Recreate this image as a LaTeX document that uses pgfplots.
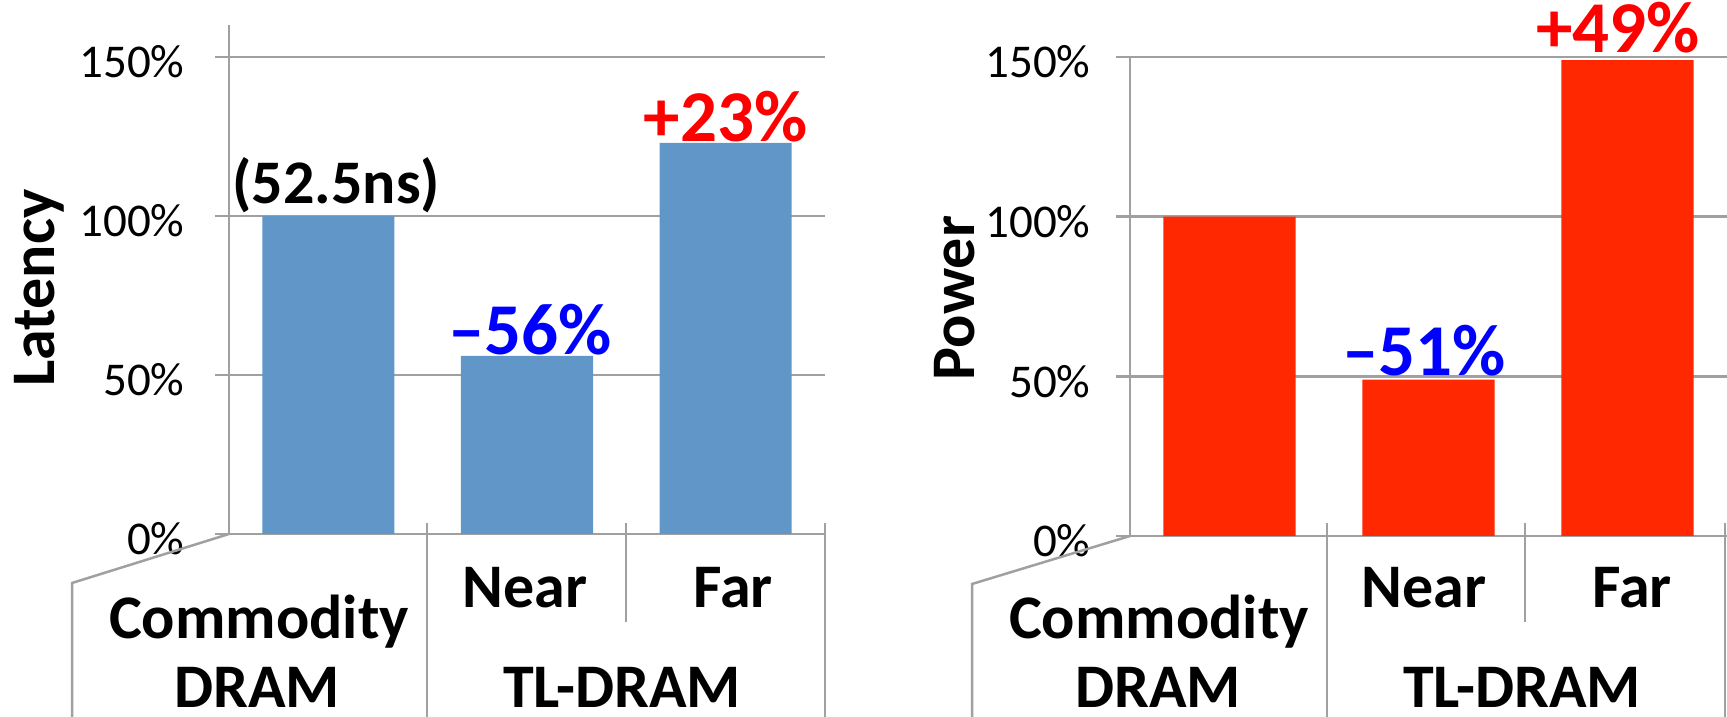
\documentclass[border=0pt]{standalone}
\usepackage{pgfplots}
\pgfplotsset{compat=1.18}
\usepackage{fontspec}
\setmainfont{Carlito}
\definecolor{barblue}{RGB}{97,150,200}
\definecolor{barred}{RGB}{255,40,0}
\definecolor{gridgray}{RGB}{160,160,160}
\definecolor{lblred}{RGB}{255,0,0}
\definecolor{lblblue}{RGB}{0,0,255}
\pgfplotsset{
  panel/.style={
    scale only axis,
    anchor=south west,
    xmin=-0.5, xmax=2.5,
    ymin=0,
    axis x line*=bottom,
    axis y line*=left,
    axis line style={gridgray, line width=2.5pt},
    xtick=\empty,
    ytick={0,50,100,150},
    yticklabels={0\%,50\%,100\%,150\%},
    ymajorgrids,
    major grid style={gridgray, line width=2.5pt},
    major tick length=14pt,
    tick align=outside,
    ytick style={gridgray, line width=2.5pt},
    yticklabel style={font=\fontsize{47}{56}\selectfont, text=black, anchor=east, yshift=-5pt},
    ylabel style={font=\bfseries\fontsize{62}{74}\selectfont, anchor=base},
    ybar, bar width=0.665,
    clip=false,
  },
}
\tikzset{
  lbl/.style={font=\bfseries\fontsize{62}{74}\selectfont, anchor=base, inner sep=0pt},
  ann/.style={font=\bfseries\fontsize{73}{80}\selectfont, anchor=base, inner sep=0pt},
}
\begin{document}
\begin{tikzpicture}[x=1pt,y=1pt]
\useasboundingbox (0,0) rectangle (1727,717);
% ---------- left panel ----------
\begin{axis}[panel, at={(229pt,183pt)}, width=596pt, height=508.8pt, ymax=160,
  yticklabel style={xshift=-27pt},
  ylabel={Latency}, ylabel style={at={(axis description cs:-0.2936,0.4835)}}]
\addplot[fill=barblue, draw=none] coordinates {(0,100) (1,56) (2,123)};
\node[lbl] at (axis cs:0.04,104) {(52.5ns)};
\node[ann, text=lblblue] at (axis cs:1.015,56.5) {\textendash56\%};
\node[ann, text=lblred] at (axis cs:2.0,123.4) {+23\%};
\end{axis}
\draw[gridgray, line width=2.5pt] (229,183) -- (72,134) -- (72,-2);
\draw[gridgray, line width=2.5pt] (427,193.5) -- (427,-2);
\draw[gridgray, line width=2.5pt] (626,193.5) -- (626,95);
\draw[gridgray, line width=2.5pt] (825,193.5) -- (825,-2);
\node[lbl] at (259,78) {Commodity};
\node[lbl] at (257,9) {DRAM};
\node[lbl] at (525,109) {Near};
\node[lbl] at (733,109) {Far};
\node[lbl] at (622,9) {TL-DRAM};
% ---------- right panel ----------
\begin{axis}[panel, at={(1130pt,181pt)}, width=597pt, height=479pt, ymax=150,
  yticklabel style={xshift=-22pt},
  ylabel={Power}, ylabel style={at={(axis description cs:-0.2603,0.497)}}]
\addplot[fill=barred, draw=none] coordinates {(0,100) (1,49) (2,149)};
\node[ann, text=lblblue] at (axis cs:0.977,50.4) {\textendash51\%};
\node[ann, text=lblred] at (axis cs:1.952,151.4) {+49\%};
\end{axis}
\draw[gridgray, line width=2.5pt] (1130,181) -- (972,133) -- (972,-2);
\draw[gridgray, line width=2.5pt] (1327,193.5) -- (1327,-2);
\draw[gridgray, line width=2.5pt] (1525,193.5) -- (1525,95);
\draw[gridgray, line width=2.5pt] (1725,193.5) -- (1725,-2);
\node[lbl] at (1159,78) {Commodity};
\node[lbl] at (1158,9) {DRAM};
\node[lbl] at (1424,109) {Near};
\node[lbl] at (1632,109) {Far};
\node[lbl] at (1522,9) {TL-DRAM};
\end{tikzpicture}
\end{document}
